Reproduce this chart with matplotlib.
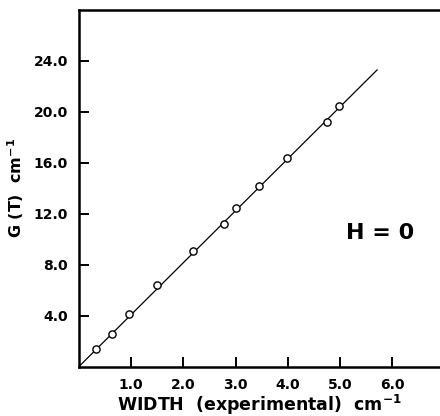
import matplotlib
matplotlib.use("Agg")
import matplotlib.pyplot as plt
import numpy as np

# Data
width_exp = [0.33, 0.63, 0.95, 1.49, 2.18, 2.78, 3.00, 3.45, 3.98, 4.75, 4.99]
g_t = [1.35, 2.54, 4.16, 6.39, 9.07, 11.22, 12.43, 14.21, 16.34, 19.23, 20.43]
fit_x = [0.0, 5.71]
fit_y = [0.0, 23.29]

x_ticks = [1.0, 2.0, 3.0, 4.0, 5.0, 6.0]
x_ticklabels = ["1.0", "2.0", "3.0", "4.0", "5.0", "6.0"]
y_ticks = [4.0, 8.0, 12.0, 16.0, 20.0, 24.0]
y_ticklabels = ["4.0", "8.0", "12.0", "16.0", "20.0", "24.0"]

plt.rcParams['font.family'] = ['DejaVu Sans']

fig = plt.figure(figsize=(4.4, 4.16), dpi=100)
ax = fig.add_axes([79/440, 49.5/416, 365.4/440, 356.5/416])

ax.plot(fit_x, fit_y, color='black', lw=0.9, zorder=2)
ax.plot(width_exp, g_t, linestyle='none', marker='o', markersize=5.2,
        markerfacecolor='white', markeredgecolor='black', markeredgewidth=1.0, zorder=3)

ax.set_xlim(0, 7)
ax.set_ylim(0, 28)

ax.set_xticks(x_ticks)
ax.set_xticklabels(x_ticklabels, fontweight='bold', fontsize=10)
ax.set_yticks(y_ticks)
ax.set_yticklabels(y_ticklabels, fontweight='bold', fontsize=10)
ax.tick_params(direction='in', length=7, width=1.4, pad=8, colors='black')

for s in ['left', 'bottom', 'top', 'right']:
    ax.spines[s].set_linewidth(1.8)
    ax.spines[s].set_color('black')

ax.set_xlabel("WIDTH  (experimental)  cm$^{\\mathbf{-1}}$", fontsize=12.5, fontweight='bold')
ax.xaxis.set_label_coords(0.493, -0.108)
ax.xaxis.label.set_va('center')
ax.set_ylabel("G (T)  cm$^{\\mathbf{-1}}$", fontsize=11.5, fontweight='bold')
ax.yaxis.set_label_coords(-63/365.4, (366.5-187.5)/356.5)
ax.yaxis.label.set_va('center')

ax.text(5.77, 10.5, "H = 0", fontsize=16, fontweight='bold', ha='center', va='center')

fig.savefig("out.png", dpi=100)
